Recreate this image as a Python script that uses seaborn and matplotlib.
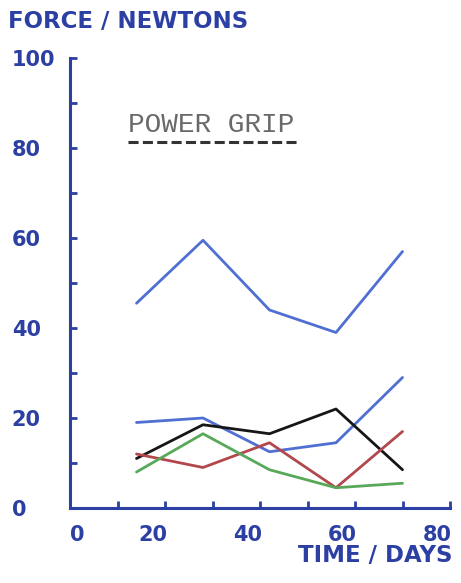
import matplotlib
matplotlib.use("Agg")
import matplotlib.pyplot as plt
from matplotlib.lines import Line2D
import matplotlib.transforms as mtransforms
import seaborn as sns
import pandas as pd

days = [14, 28, 42, 56, 70]
blue_upper = [45.5, 59.5, 44, 39, 57]
blue_lower = [19, 20, 12.5, 14.5, 29]
black = [11, 18.5, 16.5, 22, 8.5]
red = [12, 9, 14.5, 4.5, 17]
green = [8, 16.5, 8.5, 4.5, 5.5]

series_names = ["blue_upper", "blue_lower", "black", "red", "green"]
series_values = [blue_upper, blue_lower, black, red, green]

y_ticks = [0, 10, 20, 30, 40, 50, 60, 70, 80, 90, 100]
y_labels = ["0", "", "20", "", "40", "", "60", "", "80", "", "100"]
x_ticks = [0, 10, 20, 30, 40, 50, 60, 70, 80]
x_labels = ["0", "", "20", "", "40", "", "60", "", "80"]

rows = []
for name, vals in zip(series_names, series_values):
    for d, v in zip(days, vals):
        rows.append({"day": d, "force": v, "series": name})
df = pd.DataFrame(rows)

palette = {
    "blue_upper": "#4f6fd2",
    "blue_lower": "#4f6fd2",
    "black": "#161616",
    "red": "#b2484c",
    "green": "#58a85a",
}

sns.set_style("white")
plt.rcParams["font.family"] = ["DejaVu Sans"]

ink = "#2c3fa2"

fig = plt.figure(figsize=(4.61, 5.83), dpi=100)
ax = fig.add_axes([70 / 461, 75 / 583, 380 / 461, 450 / 583])

sns.lineplot(data=df, x="day", y="force", hue="series", palette=palette,
             legend=False, linewidth=2.0, ax=ax, sort=False)

ax.set_xlim(0, 80)
ax.set_ylim(0, 100)
ax.set_xticks(x_ticks)
ax.set_xticklabels(x_labels)
ax.set_yticks(y_ticks)
ax.set_yticklabels(y_labels)
ax.set_xlabel("")
ax.set_ylabel("")

for s in ["top", "right"]:
    ax.spines[s].set_visible(False)
for s in ["left", "bottom"]:
    ax.spines[s].set_color(ink)
    ax.spines[s].set_linewidth(2.2)

ax.tick_params(axis="both", direction="in", length=5, width=2, color=ink,
               labelcolor=ink, labelsize=15, left=True, bottom=True)
ax.tick_params(axis="x", pad=12)
ax.tick_params(axis="y", pad=42)
for lab in ax.get_yticklabels():
    lab.set_fontweight("bold")
    lab.set_horizontalalignment("left")
shift = mtransforms.ScaledTranslation(2 / 100, 0, fig.dpi_scale_trans)
for lab in ax.get_xticklabels():
    lab.set_fontweight("bold")
    if lab.get_text() == "0":
        lab.set_horizontalalignment("left")
    else:
        lab.set_horizontalalignment("right")
        lab.set_transform(lab.get_transform() + shift)

fig.text(8 / 461, 1 - 21 / 583, "FORCE / NEWTONS", color=ink, fontsize=16.5,
         fontweight="bold", ha="left", va="center")
fig.text(452 / 461, 1 - 556 / 583, "TIME / DAYS", color=ink, fontsize=16.5,
         fontweight="bold", ha="right", va="center")

ax.text(12.2, 83.6, "POWER GRIP", family=["Liberation Mono"], fontsize=20,
        color="#6a6a6a", ha="left", va="baseline")
fig.add_artist(Line2D([128 / 461, 300 / 461], [1 - 142 / 583, 1 - 142 / 583],
                      transform=fig.transFigure, color="#333333", linewidth=2.2,
                      dashes=(3.3, 1.4)))

fig.savefig("out.png", dpi=100)
